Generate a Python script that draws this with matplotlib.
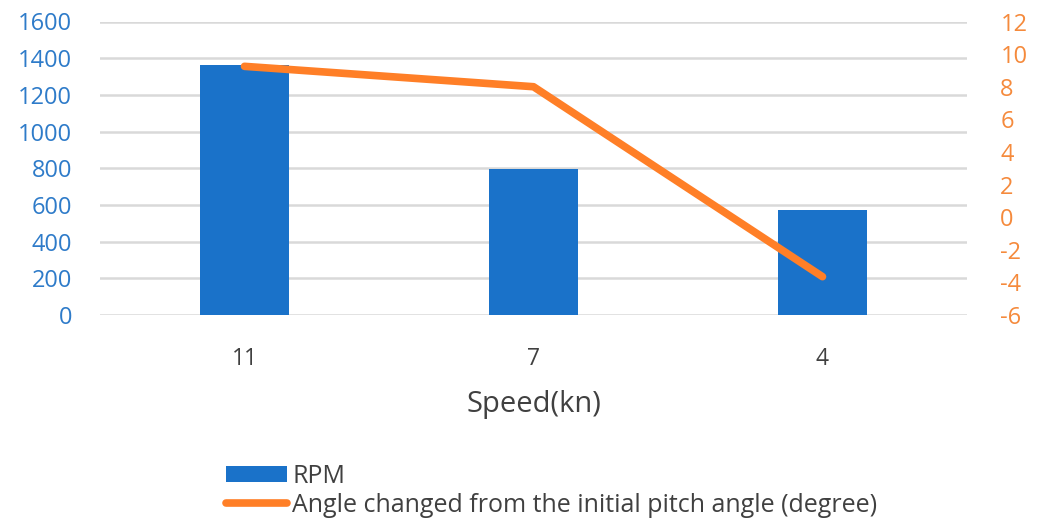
import matplotlib.pyplot as plt
from matplotlib.lines import Line2D
from matplotlib.patches import Patch
import numpy as np

plt.rcParams['font.family'] = ['Open Sans', 'DejaVu Sans']
plt.rcParams['axes.unicode_minus'] = False

# データ
speeds = ['11', '7', '4']
rpm = [1365, 795, 575]
angle_change = [9.25, 8.0, -3.65]

rpm_ticks = list(range(0, 1601, 200))
angle_ticks = list(range(-6, 13, 2))

bar_color = '#1A72C9'
line_color = '#FF7F27'
left_tick_color = '#2E7BC9'
right_tick_color = '#F58A3C'
grid_color = '#D9D9D9'
text_color = '#404040'

fig = plt.figure(figsize=(10.38, 5.18), dpi=100)
ax = fig.add_axes([100 / 1038, 1 - 315 / 518, 867 / 1038, (315 - 21.5) / 518])

x = np.arange(len(speeds))
ax.bar(x, rpm, width=0.31, color=bar_color, zorder=2)
ax.set_xlim(-0.5, len(speeds) - 0.5)
ax.set_ylim(0, 1600)
ax.set_yticks(rpm_ticks)
ax.set_xticks(x)
ax.set_xticklabels(speeds)
ax.grid(axis='y', color=grid_color, linewidth=1.8, zorder=0)
ax.set_axisbelow(True)
ax.tick_params(axis='y', length=0, pad=20, labelsize=17, labelcolor=left_tick_color)
ax.tick_params(axis='x', length=0, pad=23, labelsize=16.5, labelcolor=text_color)
ax.set_xlabel('Speed(kn)', fontsize=21, color=text_color, labelpad=14)
for s in ax.spines.values():
    s.set_visible(False)

ax2 = ax.twinx()
ax2.plot(x, angle_change, color=line_color, linewidth=5.5, solid_capstyle='round',
         solid_joinstyle='round', zorder=3)
ax2.set_ylim(-6, 12)
ax2.set_yticks(angle_ticks)
ax2.tick_params(axis='y', length=0, pad=24, labelsize=17, labelcolor=right_tick_color)
for s in ax2.spines.values():
    s.set_visible(False)

handles = [Patch(facecolor=bar_color, edgecolor='none'),
           Line2D([0], [0], color=line_color, linewidth=5.5, solid_capstyle='round')]
labels = ['RPM', 'Angle changed from the initial pitch angle (degree)']
fig.legend(handles, labels, loc='upper left', bbox_to_anchor=(226 / 1038, 1 - 464 / 518),
           frameon=False, fontsize=18, labelcolor=text_color, handlelength=2.45,
           handleheight=0.6, handletextpad=0.2, labelspacing=0.15, borderpad=0,
           borderaxespad=0)

fig.savefig('out.png', dpi=100)
